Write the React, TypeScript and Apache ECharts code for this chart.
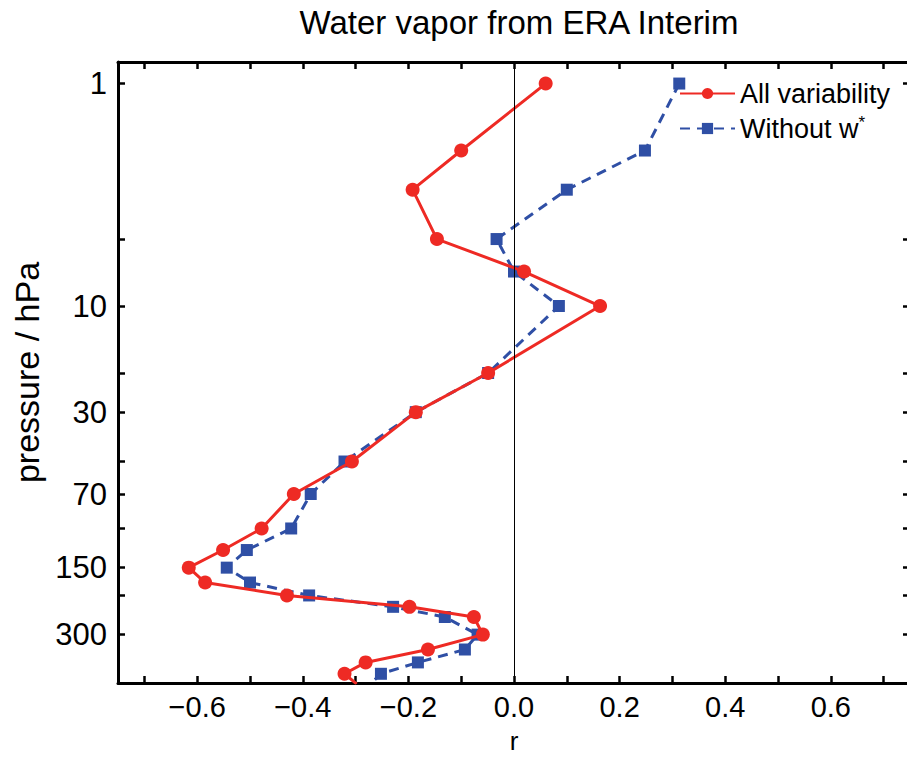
import React, { useEffect, useRef } from "react";
import * as echarts from "echarts";

// Pressure levels (hPa)
const pressure = [1, 2, 3, 5, 7, 10, 20, 30, 50, 70, 100, 125, 150, 175, 200, 225, 250, 300, 350, 400, 450, 500];
// Correlation r, all variability
const rAll = [0.060, -0.100, -0.192, -0.146, 0.019, 0.163, -0.049, -0.186, -0.307, -0.417, -0.478, -0.551, -0.616, -0.585, -0.430, -0.198, -0.076, -0.059, -0.163, -0.281, -0.321, -0.298];
// Correlation r, without w*
const rNoW = [0.313, 0.248, 0.100, -0.033, 0.000, 0.085, -0.049, -0.186, -0.321, -0.385, -0.422, -0.506, -0.544, -0.500, -0.388, -0.229, -0.131, -0.069, -0.093, -0.182, -0.252, -0.272];

const xTicks = [-0.7, -0.6, -0.5, -0.4, -0.3, -0.2, -0.1, 0, 0.1, 0.2, 0.3, 0.4, 0.5, 0.6, 0.7];
const xLabels = [-0.6, -0.4, -0.2, 0, 0.2, 0.4, 0.6];
const yTicks = [1, 5, 10, 20, 30, 50, 70, 100, 150, 200, 300];
const yLabels = [1, 10, 30, 70, 150, 300];

const seriesNames = ["All variability", "Without w*"];
const FONT = "Liberation Sans, Arial, Helvetica, sans-serif";
const RED = "#ee2a24";
const BLUE = "#2f4fa5";

export default function App() {
  const ref = useRef<HTMLDivElement>(null);
  useEffect(() => {
    if (!ref.current) return;
    const chart = echarts.init(ref.current, null, { renderer: "svg" });
    const lg = (p: number) => Math.log10(p);
    const fmtX = (v: number) => {
      const a = Math.abs(v).toFixed(1);
      return v < -1e-9 ? "\u2212" + a : a;
    };
    const xCommon = {
      type: "value",
      min: -0.75,
      max: 0.75,
      splitLine: { show: false },
      axisLine: { show: true, onZero: false, lineStyle: { color: "#000", width: 3 } },
      axisTick: { show: true, inside: true, length: 7, customValues: xTicks, lineStyle: { color: "#000", width: 2.5 } },
    };
    const yCommon = {
      type: "value",
      inverse: true,
      min: lg(0.8),
      max: lg(495),
      splitLine: { show: false },
      axisLine: { show: true, onZero: false, lineStyle: { color: "#000", width: 3 } },
      axisTick: { show: true, inside: true, length: 7, customValues: yTicks.map(lg), lineStyle: { color: "#000", width: 2.5 } },
    };
    chart.setOption({
      animation: false,
      backgroundColor: "#fff",
      title: {
        text: "Water vapor from ERA Interim",
        left: 514,
        textAlign: "center",
        top: 1,
        textStyle: { fontFamily: FONT, fontSize: 33, fontWeight: "normal", color: "#000" },
      },
      grid: { left: 118, top: 62, width: 792, height: 621, containLabel: false, outerBoundsMode: "none" },
      legend: {
        orient: "vertical",
        left: 674,
        top: 75,
        itemGap: 7,
        itemWidth: 55,
        itemHeight: 14,
        data: seriesNames,
        textStyle: {
          fontFamily: FONT,
          fontSize: 27,
          color: "#000",
          rich: { sup: { fontFamily: FONT, fontSize: 17, color: "#000", padding: [0, 0, 12, 0] } },
        },
        formatter: (name: string) => (name === "Without w*" ? "Without w{sup|*}" : name),
      },
      xAxis: [
        {
          ...xCommon,
          position: "bottom",
          name: "r",
          nameLocation: "middle",
          nameGap: 45,
          nameMoveOverlap: false,
          nameTextStyle: { fontFamily: FONT, fontSize: 26, lineHeight: 26, color: "#000" },
          axisLabel: {
            show: true,
            customValues: xLabels,
            formatter: fmtX,
            margin: 9,
            fontFamily: FONT,
            fontSize: 29,
            color: "#000",
          },
        },
        { ...xCommon, position: "top", axisLabel: { show: false } },
      ],
      yAxis: [
        {
          ...yCommon,
          position: "left",
          name: "pressure / hPa",
          nameLocation: "middle",
          nameGap: 74,
          nameTextStyle: { fontFamily: FONT, fontSize: 34, color: "#000" },
          axisLabel: {
            show: true,
            customValues: yLabels.map(lg),
            formatter: (v: number) => String(Math.round(Math.pow(10, v))),
            margin: 11,
            fontFamily: FONT,
            fontSize: 31,
            color: "#000",
          },
        },
        { ...yCommon, position: "right", axisLabel: { show: false } },
      ],
      series: [
        {
          name: seriesNames[1],
          type: "line",
          xAxisIndex: 0,
          yAxisIndex: 0,
          clip: true,
          data: pressure.map((p, i) => [rNoW[i], lg(p)]),
          symbol: "rect",
          symbolSize: 12,
          lineStyle: { color: BLUE, width: 3, type: [10, 7] },
          itemStyle: { color: BLUE },
          markLine: {
            silent: true,
            symbol: "none",
            label: { show: false },
            lineStyle: { color: "#000", width: 1, type: "solid" },
            data: [{ xAxis: 0 }],
          },
          z: 2,
        },
        {
          name: seriesNames[0],
          type: "line",
          xAxisIndex: 0,
          yAxisIndex: 0,
          clip: true,
          data: pressure.map((p, i) => [rAll[i], lg(p)]),
          symbol: "circle",
          symbolSize: 14,
          lineStyle: { color: RED, width: 3, type: "solid" },
          itemStyle: { color: RED },
          z: 3,
        },
      ],
    });
    return () => chart.dispose();
  }, []);
  return <div ref={ref} style={{ position: "absolute", left: 0, top: 0, width: 907, height: 757 }} />;
}
